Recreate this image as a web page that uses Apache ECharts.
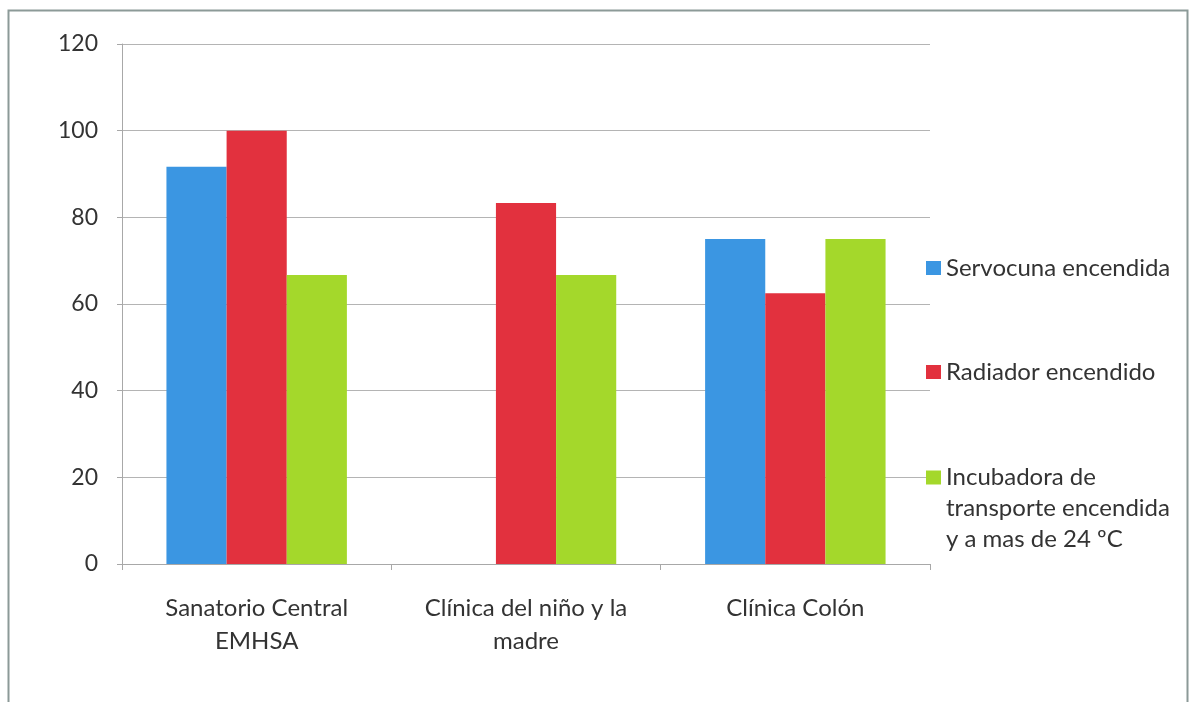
<!DOCTYPE html>
<html>
<head>
<meta charset="utf-8">
<script src="https://cdn.jsdelivr.net/npm/echarts@6/dist/echarts.min.js"></script>
<style>
html,body{margin:0;padding:0;background:#fff;}
#chart{width:1198px;height:702px;}
</style>
</head>
<body>
<div id="chart"></div>
<script>
const categories = ['Sanatorio Central\nEMHSA', 'Clínica del niño y la\nmadre', 'Clínica Colón'];
const seriesNames = ['Servocuna encendida', 'Radiador encendido', 'Incubadora de transporte encendida y a mas de 24 ºC'];
const servocuna = [91.7, 0, 75];
const radiador = [100, 83.3, 62.5];
const incubadora = [66.7, 66.7, 75];
const yTicks = [0, 20, 40, 60, 80, 100, 120];

const colors = ['#3b96e2', '#e2313e', '#a4d82b'];
const font = 'Lato';
const textColor = '#333333';
const chart = echarts.init(document.getElementById('chart'));
const legendLabels = {
  'Servocuna encendida': 'Servocuna encendida',
  'Radiador encendido': 'Radiador encendido',
  'Incubadora de transporte encendida y a mas de 24 ºC': '\n\nIncubadora de\ntransporte encendida\ny a mas de 24 ºC'
};
chart.setOption({
  animation: false,
  graphic: [{
    type: 'rect', left: 6, top: 8, shape: {width: 1179, height: 720},
    style: {fill: 'none', stroke: '#8c9a98', lineWidth: 2}, silent: true
  }],
  grid: {left: 122, top: 44, right: 268, bottom: 138},
  legend: [{
    orient: 'vertical', left: 926, top: 256, padding: 0, itemWidth: 15, itemHeight: 14, itemGap: 80,
    icon: 'rect', data: [seriesNames[0], seriesNames[1]],
    formatter: n => legendLabels[n],
    textStyle: {fontFamily: font, fontSize: 24, lineHeight: 24, color: textColor}
  }, {
    orient: 'vertical', left: 926, top: 400, padding: 0, itemWidth: 15, itemHeight: 14,
    icon: 'rect', data: [seriesNames[2]],
    formatter: n => legendLabels[n],
    textStyle: {fontFamily: font, fontSize: 24, color: textColor, lineHeight: 31}
  }],
  xAxis: {
    type: 'category', data: categories,
    axisLine: {lineStyle: {color: '#a8a8a8', width: 1}},
    axisTick: {show: true, length: 6, lineStyle: {color: '#a8a8a8'}},
    axisLabel: {fontFamily: font, fontSize: 24, color: textColor, margin: 28, lineHeight: 33, interval: 0}
  },
  yAxis: {
    type: 'value', min: 0, max: 120, interval: 20,
    axisLine: {show: true, lineStyle: {color: '#a8a8a8'}},
    axisTick: {show: true, length: 5, lineStyle: {color: '#a8a8a8'}},
    axisLabel: {fontFamily: font, fontSize: 23, color: textColor, margin: 24,
      formatter: v => yTicks.includes(v) ? String(v) : ''},
    splitLine: {lineStyle: {color: '#b4b4b4', width: 1}}
  },
  series: [
    {name: seriesNames[0], type: 'bar', data: servocuna, itemStyle: {color: colors[0]}, barGap: '0%', barCategoryGap: '33%'},
    {name: seriesNames[1], type: 'bar', data: radiador, itemStyle: {color: colors[1]}, barGap: '0%', barCategoryGap: '33%'},
    {name: seriesNames[2], type: 'bar', data: incubadora, itemStyle: {color: colors[2]}, barGap: '0%', barCategoryGap: '33%'}
  ]
});
</script>
</body>
</html>
